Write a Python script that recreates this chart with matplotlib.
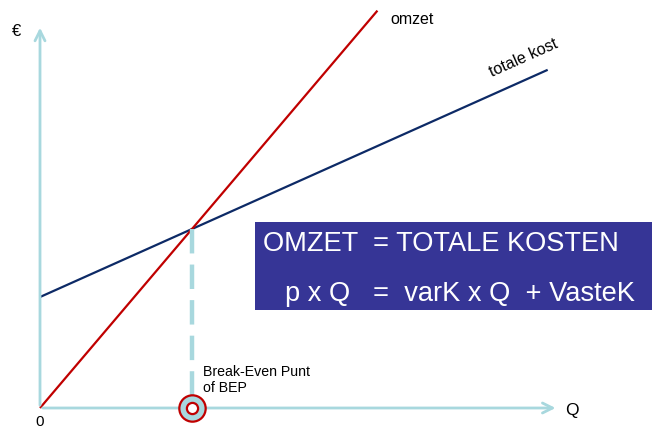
import matplotlib
matplotlib.use("Agg")
import matplotlib.pyplot as plt
import numpy as np

plt.rcParams['font.family'] = ['Liberation Sans', 'DejaVu Sans']

# Data (model units)
price = 1.0          # p
var_cost = 0.38      # varK per unit
fixed_cost = 62.0    # VasteK
q_omzet = [0, 222]   # range of omzet line
q_kost = [0, 334]    # range of totale kost line
q_bep = fixed_cost / (price - var_cost)
omzet_vals = [price * q for q in q_omzet]
kost_vals = [fixed_cost + var_cost * q for q in q_kost]
q_axis_max = 341
e_axis_max = 214

RED = '#c00000'
NAVY = '#0d2a66'
AXC = '#a8d8de'
BOX = '#363596'

fig = plt.figure(figsize=(6.52, 4.32), dpi=100)
ax = fig.add_axes([0, 0, 1, 1])
ax.set_xlim(-40 / 1.52, 612 / 1.52)
ax.set_ylim(-24 / 1.79, 408 / 1.79)
ax.axis('off')

# axes arrows
ax.annotate('', xy=(q_axis_max, 0), xytext=(0, 0),
            arrowprops=dict(arrowstyle='->', color=AXC, lw=2, mutation_scale=18))
ax.annotate('', xy=(0, e_axis_max), xytext=(0, 0),
            arrowprops=dict(arrowstyle='->', color=AXC, lw=2, mutation_scale=18))

# lines
ax.plot(q_kost, kost_vals, color=NAVY, lw=1.6, solid_capstyle='butt')
ax.plot(q_omzet, omzet_vals, color=RED, lw=1.6, solid_capstyle='butt')

# BEP dashed line
bep_e = price * q_bep
ax.plot([q_bep, q_bep], [bep_e, 0], color=AXC, lw=3.2, dashes=(5.5, 2.5))

# BEP marker
ax.scatter([q_bep], [0], s=360, facecolor=AXC, edgecolor=RED, linewidth=1.6, zorder=5)
ax.scatter([q_bep], [0], s=65, facecolor='white', edgecolor=RED, linewidth=1.6, zorder=6)

# labels
ax.text((12 - 40) / 1.52, (408 - 31) / 1.79, '€', fontsize=12, ha='left', va='center')
ax.text((35 - 40) / 1.52, (408 - 422) / 1.79, '0', fontsize=11, ha='left', va='center')
ax.text((565 - 40) / 1.52, (408 - 410) / 1.79, 'Q', fontsize=12.5, ha='left', va='center')
ax.text((390 - 40) / 1.52, (408 - 20) / 1.79, 'omzet', fontsize=11.5, ha='left', va='center')
ax.text((524 - 40) / 1.52, (408 - 58) / 1.79, 'totale kost', fontsize=11.5, ha='center',
        va='center', rotation=24)
ax.text((203 - 40) / 1.52, (408 - 380) / 1.79, 'Break-Even Punt\nof BEP', fontsize=10.2,
        ha='left', va='center', linespacing=1.2)

# formula box
x0 = (255 - 40) / 1.52
y0 = (408 - 310) / 1.79
w = (652 - 255) / 1.52
h = (310 - 222) / 1.79
ax.add_patch(plt.Rectangle((x0, y0), w, h, facecolor=BOX, edgecolor='none', zorder=3))
ax.text((263 - 40) / 1.52, (408 - 244) / 1.79, 'OMZET  = TOTALE KOSTEN', color='white',
        fontsize=19.6, ha='left', va='center', zorder=4)
ax.text((285 - 40) / 1.52, (408 - 294) / 1.79, 'p x Q   =  varK x Q  + VasteK', color='white',
        fontsize=19.6, ha='left', va='center', zorder=4)

fig.savefig('out.png', dpi=100)
